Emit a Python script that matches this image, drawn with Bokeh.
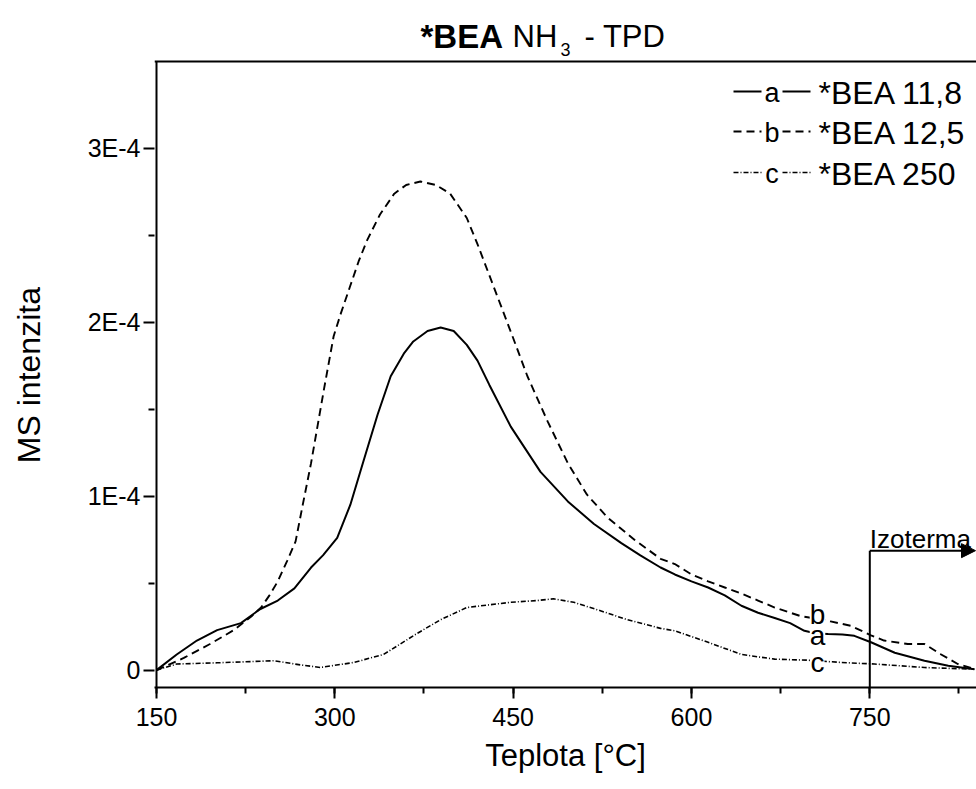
import numpy as np
from bokeh.plotting import figure
from bokeh.models import (Range1d, FixedTicker, SingleIntervalTicker, CustomJSTickFormatter,
                          Arrow, NormalHead, ColumnDataSource)
from bokeh.core.properties import value
from bokeh.embed import file_html
from bokeh.resources import INLINE

# ---------------- data (intensity in units of 1E-4) ----------------
temp_a = [150, 167, 184, 201, 221, 237, 252, 266, 280, 290, 302, 313, 324, 336, 347, 358, 366, 378, 389, 400,
          411, 420, 430, 448, 473, 496, 518, 541, 557, 574, 586, 600, 614, 628, 642, 656, 670, 683, 695, 705,
          715, 727, 737, 751, 771, 796, 816, 838]
int_a = [0, 0.09, 0.17, 0.23, 0.27, 0.35, 0.40, 0.47, 0.59, 0.66, 0.76, 0.95, 1.20, 1.47, 1.69, 1.82, 1.89, 1.95, 1.97, 1.95,
         1.87, 1.78, 1.64, 1.40, 1.14, 0.97, 0.84, 0.73, 0.66, 0.59, 0.55, 0.51, 0.475, 0.43, 0.37, 0.33, 0.30, 0.27, 0.226, 0.21,
         0.207, 0.205, 0.197, 0.16, 0.10, 0.054, 0.025, 0.005]

temp_b = [150, 173, 195, 215, 230, 238, 245, 252, 260, 267, 273, 280, 291, 299, 305, 313, 320, 327, 338, 350,
          360, 372, 385, 397, 411, 420, 430, 440, 450, 462, 479, 496, 512, 529, 552, 574, 586, 600, 614, 628,
          642, 656, 670, 692, 706, 717, 734, 751, 762, 782, 796, 810, 824, 838]
int_b = [0, 0.07, 0.15, 0.23, 0.31, 0.36, 0.43, 0.51, 0.63, 0.74, 0.95, 1.19, 1.62, 1.92, 2.05, 2.21, 2.35, 2.47, 2.62, 2.74,
         2.79, 2.81, 2.79, 2.74, 2.60, 2.45, 2.27, 2.09, 1.91, 1.69, 1.43, 1.19, 1.01, 0.88, 0.75, 0.64, 0.61, 0.55, 0.51, 0.475,
         0.44, 0.40, 0.36, 0.31, 0.295, 0.28, 0.255, 0.20, 0.17, 0.15, 0.15, 0.09, 0.035, 0.006]

temp_c = [150, 167, 201, 249, 271, 288, 316, 341, 355, 369, 389, 411, 448, 470, 484, 501, 524, 546, 574, 586,
          614, 642, 670, 698, 726, 754, 796, 838]
int_c = [0, 0.035, 0.042, 0.054, 0.03, 0.015, 0.044, 0.09, 0.15, 0.21, 0.29, 0.36, 0.39, 0.40, 0.41, 0.39, 0.34, 0.29, 0.24, 0.226,
         0.16, 0.09, 0.063, 0.057, 0.044, 0.035, 0.015, 0.005]

series_names = ["*BEA 11,8", "*BEA 12,5", "*BEA 250"]
series_tags = ["a", "b", "c"]
y_major = [0, 1, 2, 3]          # x 1E-4
y_minor = [0.5, 1.5, 2.5]       # x 1E-4
isotherm_start = 750
E4 = 1e-4

# ---------------- layout constants ----------------
FONT = "Liberation Sans"
W, H = 976, 789
LEFT, BOTTOM = 154, 102
FW, FH = W - LEFT, H - BOTTOM
PX_PER_DEG = 713.3 / 600.0
X_AT_150 = 156
X0 = 150 - (X_AT_150 - LEFT) / PX_PER_DEG
X1 = 150 + (W - X_AT_150) / PX_PER_DEG
Y0 = -0.1 * E4
Y_TOP_FRAME = 3.5 * E4
PX_PER_E4 = 626 / 3.6
Y1 = Y0 + FH / PX_PER_E4 * E4


def dx(px):
    return X0 + (px - LEFT) * (X1 - X0) / FW


def dy(py):
    return Y0 + (FH - py) / FH * (Y1 - Y0)


p = figure(width=W, height=H, output_backend="svg", toolbar_location=None,
           x_range=Range1d(X0, X1), y_range=Range1d(Y0, Y1),
           min_border_left=LEFT, min_border_right=0, min_border_top=0, min_border_bottom=BOTTOM,
           background_fill_color="white", border_fill_color="white")
p.outline_line_color = None
p.xgrid.visible = False
p.ygrid.visible = False

styles = [dict(line_dash="solid", line_width=2.0),
          dict(line_dash="8 5", line_width=1.9),
          dict(line_dash="5 2 1 2", line_width=1.6)]
for t, v, st in zip([temp_a, temp_b, temp_c], [int_a, int_b, int_c], styles):
    src = ColumnDataSource(dict(x=t, y=np.array(v) * E4))
    p.line("x", "y", source=src, line_color="black", **st)

# axes
xa = p.xaxis[0]
xa.ticker = SingleIntervalTicker(interval=150, num_minor_ticks=2)
ya = p.yaxis[0]
ya.ticker = FixedTicker(ticks=[t * E4 for t in y_major], minor_ticks=[t * E4 for t in y_minor])
ya.formatter = CustomJSTickFormatter(code="if (Math.abs(tick) < 1e-12) {return '0';} return Math.round(tick*1e4) + 'E-4';")
for ax in (xa, ya):
    ax.axis_line_width = 2
    ax.axis_line_color = "black"
    ax.major_tick_line_width = 2
    ax.minor_tick_line_width = 2
    ax.major_tick_line_color = "black"
    ax.minor_tick_line_color = "black"
    ax.major_tick_in = 0
    ax.minor_tick_in = 0
    ax.major_tick_out = 11
    ax.minor_tick_out = 6
    ax.major_label_text_font = FONT
    ax.major_label_text_font_size = "25px"
    ax.major_label_text_color = "black"
    ax.axis_label_text_font = FONT
    ax.axis_label_text_font_style = "normal"
    ax.axis_label_text_color = "black"
xa.axis_label = "Teplota [°C]"
# trailing no-break spaces keep the label centred on the visible plot box (which starts below the title)
ya.axis_label = "MS intenzita" + "\u00a0" * 7
xa.axis_label_text_font_size = "31px"
ya.axis_label_text_font_size = "32px"
xa.major_label_standoff = 9
xa.axis_label_standoff = 9
ya.major_label_standoff = 3
ya.axis_label_standoff = 38
ya.axis_line_color = None

# frame lines (left axis line and top border, stopping at the top of the plotting box)
p.add_layout(Arrow(end=None, x_start=150, y_start=Y0, x_end=150, y_end=Y_TOP_FRAME,
                   line_color="black", line_width=2))
p.add_layout(Arrow(end=None, x_start=X0, y_start=Y_TOP_FRAME, x_end=X1, y_end=Y_TOP_FRAME,
                   line_color="black", line_width=2))

# title (mixed bold / subscript)
title_parts = [("*BEA", 420, 36, "33px", "bold"), ("NH", 512, 36, "31px", "normal"),
               ("3", 560, 49, "18px", "normal"), ("- TPD", 584, 36, "31px", "normal")]
for txt, px, py, fs, style in title_parts:
    p.text(x=[dx(px)], y=[dy(py)], text=[txt], text_font=value(FONT), text_font_size=fs,
           text_font_style=style, text_align="left", text_baseline="alphabetic", text_color="black")

# legend (line sample broken by a letter, then the name)
legend_rows = [91, 131, 172]
for name, tag, st, ry in zip(series_names, series_tags, styles, legend_rows):
    for a0, a1 in ((733, 761), (782, 810)):
        p.add_layout(Arrow(end=None, x_start=dx(a0), y_start=dy(ry), x_end=dx(a1), y_end=dy(ry),
                           line_color="black", line_width=st["line_width"], line_dash=st["line_dash"]))
    p.text(x=[dx(771.5)], y=[dy(ry + 1)], text=[tag], text_font=value(FONT), text_font_size="27px",
           text_align="center", text_baseline="middle", text_color="black")
    p.text(x=[dx(818)], y=[dy(ry + 1)], text=[name], text_font=value(FONT), text_font_size="32px",
           text_align="left", text_baseline="middle", text_color="black")

# curve letters
curve_tag_y = [0.197, 0.32, 0.044]
for tag, vy in zip(series_tags, curve_tag_y):
    p.text(x=[706], y=[vy * E4], text=[tag], text_font=value(FONT), text_font_size="28px",
           text_align="center", text_baseline="middle", text_color="black",
           background_fill_color="white", padding=0)

# isotherm marker
p.add_layout(Arrow(end=None, x_start=isotherm_start, y_start=Y0, x_end=isotherm_start, y_end=0.687 * E4,
                   line_color="black", line_width=2))
p.add_layout(Arrow(end=NormalHead(size=14, fill_color="black", line_color="black"),
                   x_start=isotherm_start, y_start=0.687 * E4, x_end=dx(975), y_end=0.687 * E4,
                   line_color="black", line_width=2))
p.text(x=[isotherm_start], y=[dy(538)], text=["Izoterma"], text_font=value(FONT), text_font_size="26px",
       text_align="left", text_baseline="alphabetic", text_color="black")

open("out.html", "w").write(file_html(p, INLINE))
